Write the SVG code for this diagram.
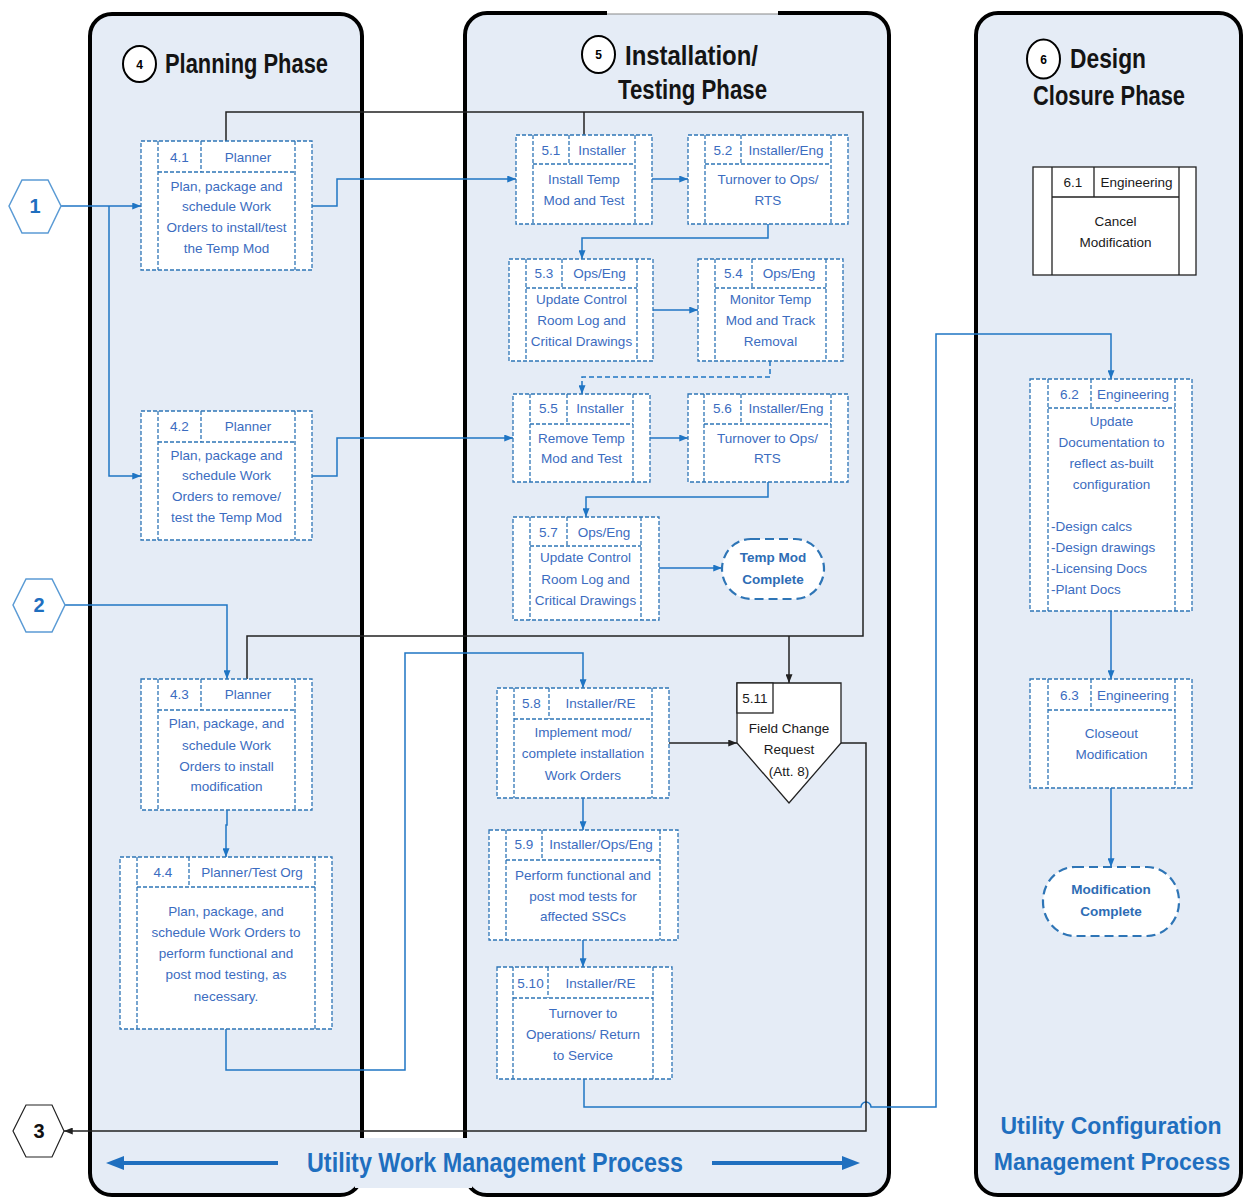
<svg xmlns="http://www.w3.org/2000/svg" width="1244" height="1197" viewBox="0 0 1244 1197">
<style>
.panel{fill:#e5ecf6;stroke:#000;stroke-width:4}
.nb{fill:#fff;stroke:#2e75b6;stroke-width:1.3;stroke-dasharray:4 2}
.nd{fill:none;stroke:#2e75b6;stroke-width:1.3;stroke-dasharray:4 2}
.sb{fill:#fff;stroke:#222;stroke-width:1.3}
.sd{fill:none;stroke:#222;stroke-width:1.3}
.t{font-family:"Liberation Sans",Arial,sans-serif;font-size:13.5px;fill:#3b6cc0;text-anchor:middle}
.tl{font-family:"Liberation Sans",Arial,sans-serif;font-size:13.5px;fill:#3b6cc0;text-anchor:start}
.tk{font-family:"Liberation Sans",Arial,sans-serif;font-size:13.5px;fill:#1a1a1a;text-anchor:middle}
.tb{font-family:"Liberation Sans",Arial,sans-serif;font-size:13.5px;font-weight:bold;fill:#2e6db5;text-anchor:middle}
.title{font-family:"Liberation Sans",Arial,sans-serif;font-size:27px;font-weight:bold;fill:#141414}
.big{font-family:"Liberation Sans",Arial,sans-serif;font-size:28px;font-weight:bold;fill:#1f6fbf}
.bigc{font-family:"Liberation Sans",Arial,sans-serif;font-size:23px;font-weight:bold;fill:#1f6fbf;text-anchor:middle}
.cn{font-family:"Liberation Sans",Arial,sans-serif;font-size:12px;font-weight:bold;fill:#000;text-anchor:middle}
.hx{fill:#fff;stroke:#5b9bd5;stroke-width:1.5}
.hxk{fill:#fff;stroke:#222;stroke-width:1.2}
.hxt{font-family:"Liberation Sans",Arial,sans-serif;font-size:20px;font-weight:bold;fill:#1f6fbf;text-anchor:middle}
.term{fill:#fff;stroke:#2e75b6;stroke-width:2.2;stroke-dasharray:9 5}
.c{fill:none;stroke:#1f75c4;stroke-width:1.5}
.cd{fill:none;stroke:#1f75c4;stroke-width:1.5;stroke-dasharray:5 3}
.k{fill:none;stroke:#222;stroke-width:1.5}
</style>
<defs>
<marker id="ab" viewBox="0 0 10 8" refX="10" refY="4" markerWidth="9" markerHeight="7" markerUnits="userSpaceOnUse" orient="auto"><path d="M0 0L10 4L0 8Z" fill="#1f75c4"/></marker>
<marker id="ak" viewBox="0 0 10 8" refX="10" refY="4" markerWidth="9" markerHeight="7" markerUnits="userSpaceOnUse" orient="auto"><path d="M0 0L10 4L0 8Z" fill="#222"/></marker>
</defs>

<g id="panels">
<rect class="panel" x="90" y="14" width="272" height="1181" rx="22"/>
<rect class="panel" x="465" y="13" width="424" height="1182" rx="22"/>
<rect class="panel" x="976" y="13" width="265" height="1182" rx="22"/>
<rect x="607" y="9" width="171" height="5" fill="#fff"/>
<rect x="607" y="14" width="171" height="3" fill="#e5ecf6"/>
<line x1="607" y1="14" x2="778" y2="14" stroke="#888" stroke-width="1"/>
<rect x="355" y="1138" width="117" height="50" fill="#e5ecf6"/>
</g>

<g id="titles">
<ellipse cx="139.5" cy="64" rx="16.5" ry="18" fill="#fff" stroke="#000" stroke-width="2"/>
<text class="cn" x="139.5" y="68.5">4</text>
<text class="title" x="165" y="73" textLength="163" lengthAdjust="spacingAndGlyphs">Planning Phase</text>
<ellipse cx="598.5" cy="54.5" rx="16.5" ry="18.5" fill="#fff" stroke="#000" stroke-width="2"/>
<text class="cn" x="598.5" y="59">5</text>
<text class="title" x="625" y="65" textLength="133" lengthAdjust="spacingAndGlyphs">Installation/</text>
<text class="title" x="618" y="99" textLength="149" lengthAdjust="spacingAndGlyphs">Testing Phase</text>
<ellipse cx="1043.5" cy="59" rx="16.5" ry="19.5" fill="#fff" stroke="#000" stroke-width="2"/>
<text class="cn" x="1043.5" y="63.5">6</text>
<text class="title" x="1070" y="68" textLength="76" lengthAdjust="spacingAndGlyphs">Design</text>
<text class="title" x="1033" y="105" textLength="152" lengthAdjust="spacingAndGlyphs">Closure Phase</text>
<text class="big" x="307" y="1172" textLength="376" lengthAdjust="spacingAndGlyphs">Utility Work Management Process</text>
<text class="bigc" x="1111" y="1134">Utility Configuration</text>
<text class="bigc" x="1112" y="1170">Management Process</text>
<line x1="278" y1="1163" x2="120" y2="1163" stroke="#1f6fbf" stroke-width="4"/>
<polygon points="106,1163 124,1156 124,1170" fill="#1f6fbf"/>
<line x1="712" y1="1163" x2="845" y2="1163" stroke="#1f6fbf" stroke-width="4"/>
<polygon points="860,1163 842,1156 842,1170" fill="#1f6fbf"/>
</g>

<g id="connectors">
<path class="c" d="M61 206H141" marker-end="url(#ab)"/>
<path class="c" d="M109 206V476H141" marker-end="url(#ab)"/>
<path class="c" d="M312 206H337V179H516" marker-end="url(#ab)"/>
<path class="c" d="M652 179H688" marker-end="url(#ab)"/>
<path class="c" d="M768 224V238H582V259" marker-end="url(#ab)"/>
<path class="c" d="M653 310H698" marker-end="url(#ab)"/>
<path class="cd" d="M770 361V377H582V394" marker-end="url(#ab)"/>
<path class="c" d="M312 476H337V438H513" marker-end="url(#ab)"/>
<path class="c" d="M650 438H688" marker-end="url(#ab)"/>
<path class="c" d="M768 482V497H586V517" marker-end="url(#ab)"/>
<path class="c" d="M659 568H722" marker-end="url(#ab)"/>
<path class="c" d="M65 605H227V679" marker-end="url(#ab)"/>
<path class="c" d="M227 810V825H226V857" marker-end="url(#ab)"/>
<path class="c" d="M226 1029V1070H405V653H583V688" marker-end="url(#ab)"/>
<path class="c" d="M583 798V830" marker-end="url(#ab)"/>
<path class="c" d="M583 940V967" marker-end="url(#ab)"/>
<path class="c" d="M584 1079V1107H861A5 5 0 0 1 871 1107H936V334H1111V379" marker-end="url(#ab)"/>
<path class="c" d="M1111 611V679" marker-end="url(#ab)"/>
<path class="c" d="M1111 788V867" marker-end="url(#ab)"/>
<path class="k" d="M226 141V112H863V636H247V679"/>
<path class="k" d="M584 135V112"/>
<path class="k" d="M789 636V683" marker-end="url(#ak)"/>
<path class="k" d="M669 743H737" marker-end="url(#ak)"/>
<path class="k" d="M841 743H866V1131H64" marker-end="url(#ak)"/>
</g>

<g id="hex1">
<polygon class="hx" points="9,206 22,180 48,180 61,206 48,233 22,233"/>
<text class="hxt" x="35" y="213">1</text>
</g>
<g id="hex2">
<polygon class="hx" points="13,605 26,579 52,579 65,605 52,632 26,632"/>
<text class="hxt" x="39" y="612">2</text>
</g>
<g id="hex3">
<polygon class="hxk" points="13,1131 26,1105 52,1105 64,1131 52,1157 26,1157"/>
<text class="hxt" x="39" y="1138" style="fill:#111">3</text>
</g>

<g id="n4-1">
<rect class="nb" x="141" y="141" width="171" height="129"/>
<path class="nd" d="M158 141V270M295 141V270M158 172H295M201 141V172"/>
<text class="t" x="179.5" y="162">4.1</text>
<text class="t" x="248" y="162">Planner</text>
<text class="t"><tspan x="226.5" y="191">Plan, package and</tspan><tspan x="226.5" y="211">schedule Work</tspan><tspan x="226.5" y="232">Orders to install/test</tspan><tspan x="226.5" y="253">the Temp Mod</tspan></text>
</g>
<g id="n4-2">
<rect class="nb" x="141" y="411" width="171" height="129"/>
<path class="nd" d="M158 411V540M295 411V540M158 442H295M201 411V442"/>
<text class="t" x="179.5" y="431">4.2</text>
<text class="t" x="248" y="431">Planner</text>
<text class="t"><tspan x="226.5" y="460">Plan, package and</tspan><tspan x="226.5" y="480">schedule Work</tspan><tspan x="226.5" y="501">Orders to remove/</tspan><tspan x="226.5" y="522">test the Temp Mod</tspan></text>
</g>
<g id="n4-3">
<rect class="nb" x="141" y="679" width="171" height="131"/>
<path class="nd" d="M158 679V810M295 679V810M158 710H295M201 679V710"/>
<text class="t" x="179.5" y="699">4.3</text>
<text class="t" x="248" y="699">Planner</text>
<text class="t"><tspan x="226.5" y="728">Plan, package, and</tspan><tspan x="226.5" y="750">schedule Work</tspan><tspan x="226.5" y="771">Orders to install</tspan><tspan x="226.5" y="791">modification</tspan></text>
</g>
<g id="n4-4">
<rect class="nb" x="120" y="857" width="212" height="172"/>
<path class="nd" d="M137 857V1029M315 857V1029M137 887H315M189 857V887"/>
<text class="t" x="163" y="877">4.4</text>
<text class="t" x="252" y="877">Planner/Test Org</text>
<text class="t"><tspan x="226" y="916">Plan, package, and</tspan><tspan x="226" y="937">schedule Work Orders to</tspan><tspan x="226" y="958">perform functional and</tspan><tspan x="226" y="979">post mod testing, as</tspan><tspan x="226" y="1001">necessary.</tspan></text>
</g>

<g id="n5-1">
<rect class="nb" x="516" y="135" width="136" height="89"/>
<path class="nd" d="M533 135V224M635 135V224M533 164H635M569 135V164"/>
<text class="t" x="551" y="155">5.1</text>
<text class="t" x="602" y="155">Installer</text>
<text class="t"><tspan x="584" y="184">Install Temp</tspan><tspan x="584" y="205">Mod and Test</tspan></text>
</g>
<g id="n5-2">
<rect class="nb" x="688" y="135" width="160" height="89"/>
<path class="nd" d="M705 135V224M831 135V224M705 164H831M741 135V164"/>
<text class="t" x="723" y="155">5.2</text>
<text class="t" x="786" y="155">Installer/Eng</text>
<text class="t"><tspan x="768" y="184">Turnover to Ops/</tspan><tspan x="768" y="205">RTS</tspan></text>
</g>
<g id="n5-3">
<rect class="nb" x="509" y="259" width="144" height="102"/>
<path class="nd" d="M526 259V361M637 259V361M526 288H637M562 259V288"/>
<text class="t" x="544" y="278">5.3</text>
<text class="t" x="599.5" y="278">Ops/Eng</text>
<text class="t"><tspan x="581.5" y="304">Update Control</tspan><tspan x="581.5" y="325">Room Log and</tspan><tspan x="581.5" y="346">Critical Drawings</tspan></text>
</g>
<g id="n5-4">
<rect class="nb" x="698" y="259" width="145" height="102"/>
<path class="nd" d="M715 259V361M826 259V361M715 288H826M752 259V288"/>
<text class="t" x="733.5" y="278">5.4</text>
<text class="t" x="789" y="278">Ops/Eng</text>
<text class="t"><tspan x="770.5" y="304">Monitor Temp</tspan><tspan x="770.5" y="325">Mod and Track</tspan><tspan x="770.5" y="346">Removal</tspan></text>
</g>
<g id="n5-5">
<rect class="nb" x="513" y="394" width="137" height="88"/>
<path class="nd" d="M530 394V482M633 394V482M530 424H633M567 394V424"/>
<text class="t" x="548.5" y="413">5.5</text>
<text class="t" x="600" y="413">Installer</text>
<text class="t"><tspan x="581.5" y="443">Remove Temp</tspan><tspan x="581.5" y="463">Mod and Test</tspan></text>
</g>
<g id="n5-6">
<rect class="nb" x="688" y="394" width="160" height="88"/>
<path class="nd" d="M704 394V482M831 394V482M704 424H831M741 394V424"/>
<text class="t" x="722.5" y="413">5.6</text>
<text class="t" x="786" y="413">Installer/Eng</text>
<text class="t"><tspan x="767.5" y="443">Turnover to Ops/</tspan><tspan x="767.5" y="463">RTS</tspan></text>
</g>
<g id="n5-7">
<rect class="nb" x="513" y="517" width="146" height="103"/>
<path class="nd" d="M530 517V620M641 517V620M530 546H641M567 517V546"/>
<text class="t" x="548.5" y="537">5.7</text>
<text class="t" x="604" y="537">Ops/Eng</text>
<text class="t"><tspan x="585.5" y="562">Update Control</tspan><tspan x="585.5" y="584">Room Log and</tspan><tspan x="585.5" y="605">Critical Drawings</tspan></text>
</g>
<g id="temp-mod-complete">
<rect class="term" x="722" y="539" width="102" height="60" rx="29" ry="30"/>
<text class="tb"><tspan x="773" y="562">Temp Mod</tspan><tspan x="773" y="584">Complete</tspan></text>
</g>
<g id="n5-8">
<rect class="nb" x="497" y="688" width="172" height="110"/>
<path class="nd" d="M514 688V798M652 688V798M514 719H652M549 688V719"/>
<text class="t" x="531.5" y="708">5.8</text>
<text class="t" x="600.5" y="708">Installer/RE</text>
<text class="t"><tspan x="583" y="737">Implement mod/</tspan><tspan x="583" y="758">complete installation</tspan><tspan x="583" y="780">Work Orders</tspan></text>
</g>
<g id="n5-11">
<path class="sb" d="M737 683H841V743L789 803L737 743Z"/>
<rect class="sb" x="737" y="683" width="36" height="30"/>
<text class="tk" x="755" y="703">5.11</text>
<text class="tk"><tspan x="789" y="733">Field Change</tspan><tspan x="789" y="754">Request</tspan><tspan x="789" y="776">(Att. 8)</tspan></text>
</g>
<g id="n5-9">
<rect class="nb" x="489" y="830" width="189" height="110"/>
<path class="nd" d="M506 830V940M660 830V940M506 860H660M542 830V860"/>
<text class="t" x="524" y="849">5.9</text>
<text class="t" x="601" y="849">Installer/Ops/Eng</text>
<text class="t"><tspan x="583" y="880">Perform functional and</tspan><tspan x="583" y="901">post mod tests for</tspan><tspan x="583" y="921">affected SSCs</tspan></text>
</g>
<g id="n5-10">
<rect class="nb" x="497" y="967" width="175" height="112"/>
<path class="nd" d="M513 967V1079M653 967V1079M513 998H653M548 967V998"/>
<text class="t" x="530.5" y="988">5.10</text>
<text class="t" x="600.5" y="988">Installer/RE</text>
<text class="t"><tspan x="583" y="1018">Turnover to</tspan><tspan x="583" y="1039">Operations/ Return</tspan><tspan x="583" y="1060">to Service</tspan></text>
</g>

<g id="n6-1">
<rect class="sb" x="1033" y="167" width="163" height="108"/>
<path class="sd" d="M1052 167V275M1179 167V275M1052 197H1179M1094 167V197"/>
<text class="tk" x="1073" y="187">6.1</text>
<text class="tk" x="1136.5" y="187">Engineering</text>
<text class="tk"><tspan x="1115.5" y="226">Cancel</tspan><tspan x="1115.5" y="247">Modification</tspan></text>
</g>
<g id="n6-2">
<rect class="nb" x="1030" y="379" width="162" height="232"/>
<path class="nd" d="M1048 379V611M1175 379V611M1048 408H1175M1091 379V408"/>
<text class="t" x="1069.5" y="399">6.2</text>
<text class="t" x="1133" y="399">Engineering</text>
<text class="t"><tspan x="1111.5" y="426">Update</tspan><tspan x="1111.5" y="447">Documentation to</tspan><tspan x="1111.5" y="468">reflect as-built</tspan><tspan x="1111.5" y="489">configuration</tspan></text>
<text class="tl"><tspan x="1051" y="531">-Design calcs</tspan><tspan x="1051" y="552">-Design drawings</tspan><tspan x="1051" y="573">-Licensing Docs</tspan><tspan x="1051" y="594">-Plant Docs</tspan></text>
</g>
<g id="n6-3">
<rect class="nb" x="1030" y="679" width="162" height="109"/>
<path class="nd" d="M1048 679V788M1175 679V788M1048 710H1175M1091 679V710"/>
<text class="t" x="1069.5" y="700">6.3</text>
<text class="t" x="1133" y="700">Engineering</text>
<text class="t"><tspan x="1111.5" y="738">Closeout</tspan><tspan x="1111.5" y="759">Modification</tspan></text>
</g>
<g id="modification-complete">
<rect class="term" x="1043" y="867" width="136" height="69" rx="32" ry="34"/>
<text class="tb"><tspan x="1111" y="894">Modification</tspan><tspan x="1111" y="916">Complete</tspan></text>
</g>
</svg>
